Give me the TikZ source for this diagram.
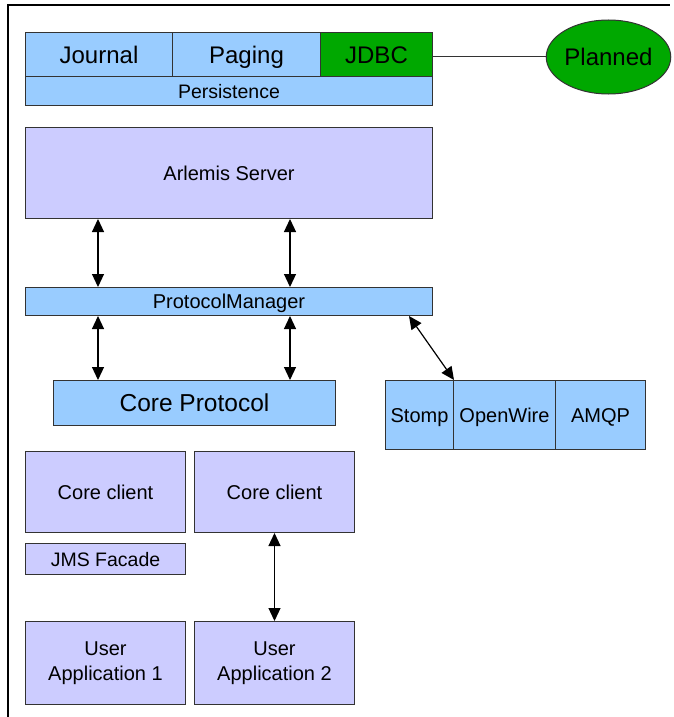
\documentclass[tikz,border=0pt]{standalone}
\usepackage{fontspec}
\setmainfont{Liberation Sans}
\usetikzlibrary{arrows.meta,shapes.geometric}
\definecolor{lblue}{HTML}{99CCFF}
\definecolor{lav}{HTML}{CCCCFF}
\definecolor{grn}{HTML}{00A800}
\definecolor{edge}{HTML}{333333}
\tikzset{
  box/.style={draw=edge, line width=1pt, inner sep=0pt, anchor=north west, align=center},
  arr/.style={line width=1.2pt, {Triangle[length=13pt,width=12pt]}-{Triangle[length=13pt,width=12pt]}},
  fa/.style={font=\fontsize{24}{28}\selectfont, text height=22.5pt, text depth=5.3pt},
  fc/.style={font=\fontsize{24.5}{28}\selectfont, text height=23pt, text depth=5.4pt},
  fb/.style={font=\fontsize{20}{25}\selectfont, text height=18.7pt, text depth=4.4pt},
  fs/.style={font=\fontsize{19.5}{23}\selectfont, text height=18.2pt, text depth=4.2pt},
  fm/.style={font=\fontsize{20}{25}\selectfont},
}
\begin{document}
\begin{tikzpicture}[x=1pt,y=-1pt]
\useasboundingbox (0,0) rectangle (673,717);
\draw[line width=1.5pt] (8,717) -- (8,5) -- (670,5);
% persistence group
\node[box, fill=lblue, fa, minimum width=147, minimum height=44] (journal) at (25,32) {Journal};
\node[box, fill=lblue, fa, minimum width=148, minimum height=44] (paging) at (172,32) {Paging};
\node[box, fill=grn, fa, minimum width=112, minimum height=44] (jdbc) at (320,32) {JDBC};
\node[box, fill=lblue, fs, minimum width=407, minimum height=29] (persist) at (25,76) {Persistence};
\node[ellipse, draw=edge, line width=1pt, fill=grn, fa, minimum width=119, minimum height=74, inner sep=0pt] (planned) at (608.5,57) {Planned};
\draw[line width=1pt, edge] (planned.west -| jdbc.east) -- (planned.west);
% server
\node[box, fill=lav, fb, minimum width=407, minimum height=91] (server) at (25,127) {Arlemis Server};
\node[box, fill=lblue, fb, minimum width=407, minimum height=28] (pm) at (25,287) {ProtocolManager};
\node[box, fill=lblue, fc, minimum width=282, minimum height=45] (core) at (53,380) {Core Protocol};
\node[box, fill=lblue, fb, minimum width=68, minimum height=69] (stomp) at (385,380) {Stomp};
\node[box, fill=lblue, fb, minimum width=102, minimum height=69] (openwire) at (453,380) {OpenWire};
\node[box, fill=lblue, fb, minimum width=90, minimum height=69] (amqp) at (555,380) {AMQP};
\draw[arr] ([xshift=73]server.south west) -- ([xshift=73]pm.north west);
\draw[arr] ([xshift=265]server.south west) -- ([xshift=265]pm.north west);
\draw[arr] ([xshift=73]pm.south west) -- ([xshift=45]core.north west);
\draw[arr] ([xshift=265]pm.south west) -- ([xshift=237]core.north west);
\draw[arr] ([xshift=-24]pm.south east) -- (stomp.north east);
% clients
\node[box, fill=lav, fb, minimum width=160, minimum height=81] (cc1) at (25,451) {Core client};
\node[box, fill=lav, fb, minimum width=160, minimum height=81] (cc2) at (194,451) {Core client};
\node[box, fill=lav, fs, minimum width=160, minimum height=31] (jms) at (25,543) {JMS Facade};
\node[box, fill=lav, fm, minimum width=160, minimum height=83] (ua1) at (25,621) {User\\Application 1};
\node[box, fill=lav, fm, minimum width=160, minimum height=83] (ua2) at (194,621) {User\\Application 2};
\draw[arr] (cc2.south) -- (ua2.north);
\end{tikzpicture}
\end{document}
